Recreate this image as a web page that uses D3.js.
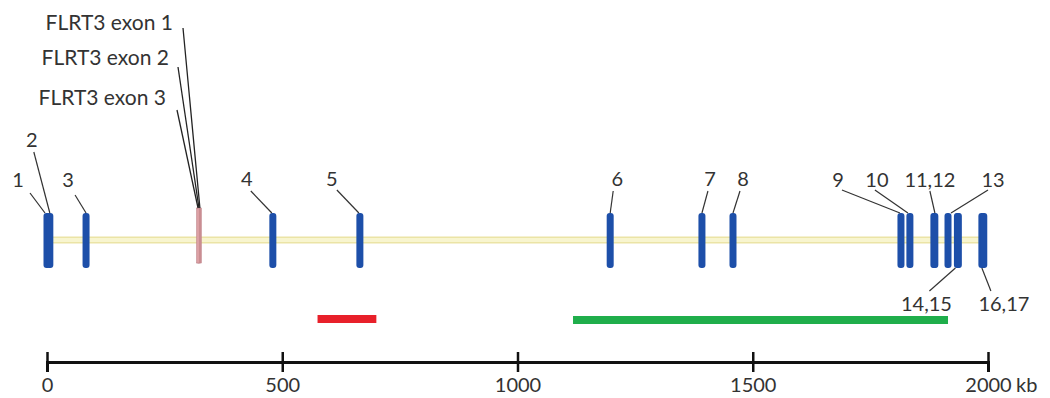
<!DOCTYPE html>
<html>
<head>
<meta charset="utf-8">
<script src="https://cdn.jsdelivr.net/npm/d3@7"></script>
<style>
  body { margin: 0; background: #fff; }
  text { font-family: Lato, "Open Sans", sans-serif; fill: #333; }
</style>
</head>
<body>
<svg width="1050" height="398"></svg>
<script>
// data (kb)
const exonNames = ["1","2","3","4","5","6","7","8","9","10","11","12","13","14","15","16","17"];
const exonKb = [0, 6, 83, 480, 665, 1197, 1392, 1458, 1815, 1834, 1885, 1887, 1915, 1935, 1937, 1987, 1991];
const flrt3Names = ["FLRT3 exon 1", "FLRT3 exon 2", "FLRT3 exon 3"];
const flrt3Kb = [325, 323, 321];
const geneSpan = [0, 1990];
const redRegion = [575, 700];
const greenRegion = [1118, 1915];
const tickValues = [0, 500, 1000, 1500, 2000];

// label groups: text, exon index it points to
const labelText = ["1", "2", "3", "4", "5", "6", "7", "8", "9", "10", "11,12", "13", "14,15", "16,17"];
const labelExon = [0, 1, 2, 3, 4, 5, 6, 7, 8, 9, 10, 12, 13, 15];

const svg = d3.select("svg");
const x = d3.scaleLinear().domain([0, 2000]).range([47, 988]);

const exonTop = 213, exonBottom = 268, geneY = 240;

// label layout (pixel offsets from exon x)
const layout = [
  { side: "top", lx: -29, ly: 187, sx: -17, sy: 193, ex: -2 },
  { side: "top", lx: -18, ly: 147, sx: -16, sy: 152, ex: 0 },
  { side: "top", lx: -18, ly: 187, sx: -11, sy: 195, ex: 0 },
  { side: "top", lx: -26, ly: 186, sx: -22, sy: 191, ex: -1 },
  { side: "top", lx: -28, ly: 186, sx: -23, sy: 190, ex: -1 },
  { side: "top", lx: 7, ly: 186, sx: 3, sy: 191, ex: 0 },
  { side: "top", lx: 8, ly: 186, sx: 6, sy: 191, ex: 0 },
  { side: "top", lx: 10, ly: 186, sx: 7, sy: 191, ex: 0 },
  { side: "top", lx: -63, ly: 187, sx: -59, sy: 190, ex: -1 },
  { side: "top", lx: -33, ly: 187, sx: -35, sy: 190, ex: -2 },
  { side: "top", lx: -4, ly: 187, sx: -4, sy: 191, ex: 1 },
  { side: "top", lx: 45, ly: 187, sx: 40, sy: 190, ex: 3 },
  { side: "bottom", lx: -31, ly: 311, sx: -28, sy: 291, ex: -2 },
  { side: "bottom", lx: 22, ly: 311, sx: 9, sy: 291, ex: 0 }
];

// gene backbone
svg.append("line")
  .attr("x1", x(geneSpan[0])).attr("x2", x(geneSpan[1]))
  .attr("y1", geneY).attr("y2", geneY)
  .attr("stroke", "#ebe4a6").attr("stroke-width", 7);
svg.append("line")
  .attr("x1", x(geneSpan[0])).attr("x2", x(geneSpan[1]))
  .attr("y1", geneY).attr("y2", geneY)
  .attr("stroke", "#f8f5cf").attr("stroke-width", 4);

// FLRT3 exons + leaders
flrt3Kb.forEach((k, i) => {
  svg.append("rect")
    .attr("x", x(k) - 1.5).attr("y", 208)
    .attr("width", 3).attr("height", 55)
    .attr("fill", "#dca0a4").attr("stroke", "#b87a80").attr("stroke-width", 0.5);
});
const flrtLabelEnd = [173, 169, 166];
const flrtLabelY = [30, 65, 105];
const flrtLeadStart = [[183, 28], [178, 67], [177, 110]];
flrt3Names.forEach((t, i) => {
  svg.append("text")
    .attr("x", flrtLabelEnd[i]).attr("y", flrtLabelY[i])
    .attr("text-anchor", "end")
    .attr("font-size", "21px")
    .text(t);
  svg.append("line")
    .attr("x1", flrtLeadStart[i][0]).attr("y1", flrtLeadStart[i][1])
    .attr("x2", x(flrt3Kb[i])).attr("y2", 208)
    .attr("stroke", "#222").attr("stroke-width", 1.3);
});

// exons
svg.selectAll("rect.exon")
  .data(exonKb)
  .enter()
  .append("rect")
  .attr("class", "exon")
  .attr("x", d => x(d) - 3.5)
  .attr("y", exonTop)
  .attr("width", 7)
  .attr("height", exonBottom - exonTop)
  .attr("rx", 3)
  .attr("fill", "#1d4fa9");

// exon labels + leaders
labelText.forEach((t, i) => {
  const xe = x(exonKb[labelExon[i]]);
  const L = layout[i];
  svg.append("line")
    .attr("x1", xe + L.sx).attr("y1", L.sy)
    .attr("x2", xe + L.ex).attr("y2", L.side === "top" ? exonTop : exonBottom)
    .attr("stroke", "#333").attr("stroke-width", 1.2);
  svg.append("text")
    .attr("x", xe + L.lx).attr("y", L.ly)
    .attr("text-anchor", "middle")
    .attr("font-size", "20px")
    .text(t);
});

// regions
svg.append("rect")
  .attr("x", x(redRegion[0])).attr("y", 315)
  .attr("width", x(redRegion[1]) - x(redRegion[0])).attr("height", 8)
  .attr("fill", "#e8202a");
svg.append("rect")
  .attr("x", x(greenRegion[0])).attr("y", 316)
  .attr("width", x(greenRegion[1]) - x(greenRegion[0])).attr("height", 8)
  .attr("fill", "#1fae4b");

// scale bar axis
const axis = d3.axisBottom(x)
  .tickValues(tickValues)
  .tickSizeOuter(0)
  .tickSize(10)
  .tickFormat(d => d);
const ax = svg.append("g")
  .attr("transform", "translate(0,362)")
  .call(axis);
ax.select(".domain").attr("stroke", "#111").attr("stroke-width", 3);
ax.selectAll(".tick line").attr("y1", -10).attr("y2", 10)
  .attr("stroke", "#111").attr("stroke-width", 2.5);
ax.selectAll(".tick text")
  .attr("y", 16)
  .attr("font-size", "20px")
  .attr("font-family", "Lato, sans-serif")
  .attr("fill", "#333");
svg.append("text")
  .attr("x", x(2000) + 28).attr("y", 392)
  .attr("font-size", "20px")
  .text("kb");
</script>
</body>
</html>
